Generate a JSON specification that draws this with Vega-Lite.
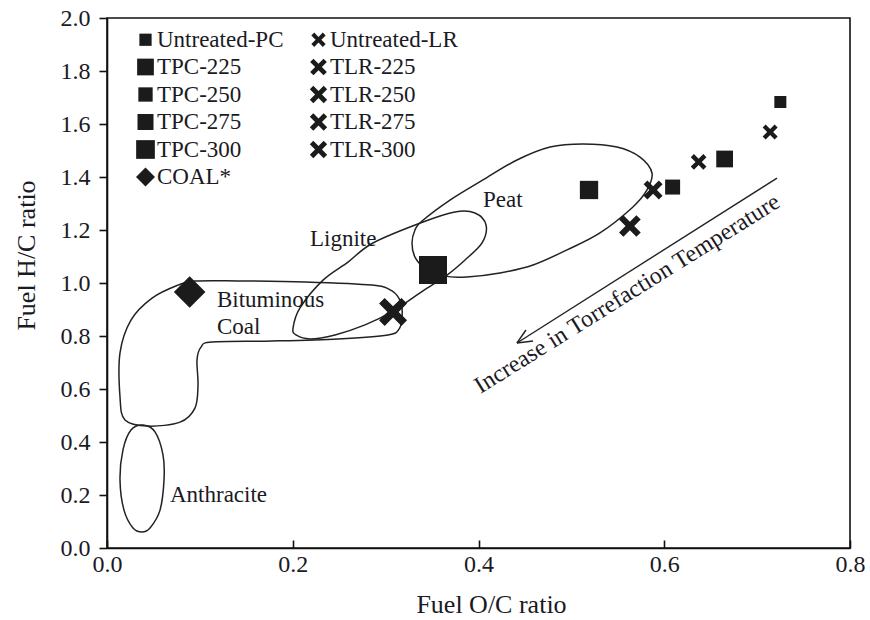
{
  "$schema": "https://vega.github.io/schema/vega-lite/v6.json",
  "width": 743,
  "height": 530,
  "autosize": {"type": "none"},
  "padding": {"left": 107, "top": 18, "right": 20, "bottom": 72},
  "background": "white",
  "config": {
    "font": "Liberation Serif",
    "view": {"stroke": "#111111", "strokeWidth": 1.6},
    "axis": {
      "grid": false,
      "labelFlush": false,
      "domainColor": "#111111",
      "domainWidth": 1.6,
      "tickColor": "#111111",
      "tickWidth": 1.6,
      "labelColor": "#1a1a24",
      "titleColor": "#1a1a24",
      "labelFont": "Liberation Serif",
      "titleFont": "Liberation Serif",
      "labelFontSize": 24,
      "titleFontSize": 26,
      "titleFontWeight": "normal"
    },
    "legend": {
      "orient": "none",
      "legendX": 27,
      "legendY": 10,
      "columns": 2,
      "columnPadding": 23,
      "rowPadding": 3.5,
      "padding": 0,
      "labelFont": "Liberation Serif",
      "labelFontSize": 23,
      "labelColor": "#1a1a24",
      "labelOffset": 0,
      "symbolOpacity": 1,
      "symbolStrokeWidth": 0
    }
  },
  "resolve": {"scale": {"shape": "independent", "size": "independent"}},
  "datasets": {
    "samples": [
      {"series": "Untreated-PC", "oc": 0.725, "hc": 1.683},
      {"series": "TPC-225", "oc": 0.665, "hc": 1.468},
      {"series": "TPC-250", "oc": 0.609, "hc": 1.362},
      {"series": "TPC-275", "oc": 0.519, "hc": 1.351},
      {"series": "TPC-300", "oc": 0.351, "hc": 1.049},
      {"series": "Untreated-LR", "oc": 0.714, "hc": 1.570},
      {"series": "TLR-225", "oc": 0.637, "hc": 1.457},
      {"series": "TLR-250", "oc": 0.588, "hc": 1.351},
      {"series": "TLR-275", "oc": 0.563, "hc": 1.215},
      {"series": "TLR-300", "oc": 0.308, "hc": 0.891},
      {"series": "COAL*", "oc": 0.089, "hc": 0.966}
    ],
    "regions": [
      {"region": "Peat", "ord": 0, "oc": 0.3284, "hc": 1.151},
      {"region": "Peat", "ord": 1, "oc": 0.3316, "hc": 1.200},
      {"region": "Peat", "ord": 2, "oc": 0.3392, "hc": 1.234},
      {"region": "Peat", "ord": 3, "oc": 0.3693, "hc": 1.313},
      {"region": "Peat", "ord": 4, "oc": 0.4048, "hc": 1.389},
      {"region": "Peat", "ord": 5, "oc": 0.4414, "hc": 1.464},
      {"region": "Peat", "ord": 6, "oc": 0.4770, "hc": 1.513},
      {"region": "Peat", "ord": 7, "oc": 0.5125, "hc": 1.525},
      {"region": "Peat", "ord": 8, "oc": 0.5491, "hc": 1.513},
      {"region": "Peat", "ord": 9, "oc": 0.5739, "hc": 1.475},
      {"region": "Peat", "ord": 10, "oc": 0.5868, "hc": 1.415},
      {"region": "Peat", "ord": 11, "oc": 0.5814, "hc": 1.351},
      {"region": "Peat", "ord": 12, "oc": 0.5663, "hc": 1.287},
      {"region": "Peat", "ord": 13, "oc": 0.5308, "hc": 1.189},
      {"region": "Peat", "ord": 14, "oc": 0.4953, "hc": 1.125},
      {"region": "Peat", "ord": 15, "oc": 0.4587, "hc": 1.068},
      {"region": "Peat", "ord": 16, "oc": 0.4231, "hc": 1.038},
      {"region": "Peat", "ord": 17, "oc": 0.3876, "hc": 1.023},
      {"region": "Peat", "ord": 18, "oc": 0.3639, "hc": 1.026},
      {"region": "Peat", "ord": 19, "oc": 0.3424, "hc": 1.057},
      {"region": "Peat", "ord": 20, "oc": 0.3316, "hc": 1.098},
      {"region": "Lignite", "ord": 0, "oc": 0.2003, "hc": 0.830},
      {"region": "Lignite", "ord": 1, "oc": 0.2078, "hc": 0.906},
      {"region": "Lignite", "ord": 2, "oc": 0.2326, "hc": 1.011},
      {"region": "Lignite", "ord": 3, "oc": 0.2595, "hc": 1.079},
      {"region": "Lignite", "ord": 4, "oc": 0.2864, "hc": 1.151},
      {"region": "Lignite", "ord": 5, "oc": 0.3402, "hc": 1.230},
      {"region": "Lignite", "ord": 6, "oc": 0.3747, "hc": 1.268},
      {"region": "Lignite", "ord": 7, "oc": 0.3962, "hc": 1.264},
      {"region": "Lignite", "ord": 8, "oc": 0.4081, "hc": 1.219},
      {"region": "Lignite", "ord": 9, "oc": 0.4038, "hc": 1.151},
      {"region": "Lignite", "ord": 10, "oc": 0.3855, "hc": 1.087},
      {"region": "Lignite", "ord": 11, "oc": 0.3661, "hc": 1.030},
      {"region": "Lignite", "ord": 12, "oc": 0.3402, "hc": 0.970},
      {"region": "Lignite", "ord": 13, "oc": 0.3079, "hc": 0.894},
      {"region": "Lignite", "ord": 14, "oc": 0.2778, "hc": 0.842},
      {"region": "Lignite", "ord": 15, "oc": 0.2455, "hc": 0.804},
      {"region": "Lignite", "ord": 16, "oc": 0.2186, "hc": 0.789},
      {"region": "Lignite", "ord": 17, "oc": 0.2035, "hc": 0.804},
      {"region": "Bituminous", "ord": 0, "oc": 0.0947, "hc": 1.0075},
      {"region": "Bituminous", "ord": 1, "oc": 0.1410, "hc": 1.008},
      {"region": "Bituminous", "ord": 2, "oc": 0.2132, "hc": 1.004},
      {"region": "Bituminous", "ord": 3, "oc": 0.2853, "hc": 0.992},
      {"region": "Bituminous", "ord": 4, "oc": 0.3069, "hc": 0.970},
      {"region": "Bituminous", "ord": 5, "oc": 0.3166, "hc": 0.925},
      {"region": "Bituminous", "ord": 6, "oc": 0.3176, "hc": 0.868},
      {"region": "Bituminous", "ord": 7, "oc": 0.3144, "hc": 0.826},
      {"region": "Bituminous", "ord": 8, "oc": 0.3025, "hc": 0.804},
      {"region": "Bituminous", "ord": 9, "oc": 0.2487, "hc": 0.789},
      {"region": "Bituminous", "ord": 10, "oc": 0.1777, "hc": 0.781},
      {"region": "Bituminous", "ord": 11, "oc": 0.1131, "hc": 0.777},
      {"region": "Bituminous", "ord": 12, "oc": 0.1012, "hc": 0.758},
      {"region": "Bituminous", "ord": 13, "oc": 0.0969, "hc": 0.709},
      {"region": "Bituminous", "ord": 14, "oc": 0.0980, "hc": 0.615},
      {"region": "Bituminous", "ord": 15, "oc": 0.0947, "hc": 0.528},
      {"region": "Bituminous", "ord": 16, "oc": 0.0786, "hc": 0.475},
      {"region": "Bituminous", "ord": 17, "oc": 0.0441, "hc": 0.460},
      {"region": "Bituminous", "ord": 18, "oc": 0.0194, "hc": 0.483},
      {"region": "Bituminous", "ord": 19, "oc": 0.0140, "hc": 0.570},
      {"region": "Bituminous", "ord": 20, "oc": 0.0140, "hc": 0.736},
      {"region": "Bituminous", "ord": 21, "oc": 0.0258, "hc": 0.860},
      {"region": "Bituminous", "ord": 22, "oc": 0.0485, "hc": 0.943},
      {"region": "Bituminous", "ord": 23, "oc": 0.0764, "hc": 0.992},
      {"region": "Anthracite", "ord": 0, "oc": 0.0388, "hc": 0.464},
      {"region": "Anthracite", "ord": 1, "oc": 0.0517, "hc": 0.438},
      {"region": "Anthracite", "ord": 2, "oc": 0.0603, "hc": 0.351},
      {"region": "Anthracite", "ord": 3, "oc": 0.0614, "hc": 0.257},
      {"region": "Anthracite", "ord": 4, "oc": 0.0571, "hc": 0.143},
      {"region": "Anthracite", "ord": 5, "oc": 0.0463, "hc": 0.0755},
      {"region": "Anthracite", "ord": 6, "oc": 0.0377, "hc": 0.0604},
      {"region": "Anthracite", "ord": 7, "oc": 0.0280, "hc": 0.0755},
      {"region": "Anthracite", "ord": 8, "oc": 0.0183, "hc": 0.143},
      {"region": "Anthracite", "ord": 9, "oc": 0.0140, "hc": 0.257},
      {"region": "Anthracite", "ord": 10, "oc": 0.0172, "hc": 0.370},
      {"region": "Anthracite", "ord": 11, "oc": 0.0258, "hc": 0.445}
    ],
    "regionNames": [
      {"text": "Peat", "oc": 0.4048, "hc": 1.287},
      {"text": "Lignite", "oc": 0.2186, "hc": 1.140},
      {"text": "Bituminous", "oc": 0.1184, "hc": 0.909},
      {"text": "Coal", "oc": 0.1184, "hc": 0.8075},
      {"text": "Anthracite", "oc": 0.0678, "hc": 0.1736}
    ],
    "arrow": [
      {"oc": 0.7214, "hc": 1.396, "oc2": 0.4414, "hc2": 0.7736},
      {"oc": 0.4414, "hc": 0.7736, "oc2": 0.4587, "hc2": 0.781},
      {"oc": 0.4414, "hc": 0.7736, "oc2": 0.4511, "hc2": 0.8226}
    ],
    "arrowNote": [
      {"text": "Increase in Torrefaction Temperature", "oc": 0.5642, "hc": 0.9358}
    ]
  },
  "encoding": {
    "x": {
      "field": "oc",
      "type": "quantitative",
      "scale": {"domain": [0, 0.8], "nice": false, "zero": false},
      "axis": {
        "title": "Fuel O/C ratio",
        "values": [0, 0.2, 0.4, 0.6, 0.8],
        "format": ".1f",
        "tickSize": -8,
        "labelPadding": 12,
        "titleX": 384,
        "titleY": 64,
        "titleAlign": "center",
        "titleBaseline": "alphabetic"
      }
    },
    "y": {
      "field": "hc",
      "type": "quantitative",
      "scale": {"domain": [0, 2], "nice": false, "zero": false},
      "axis": {
        "title": "Fuel H/C ratio",
        "values": [0, 0.2, 0.4, 0.6, 0.8, 1.0, 1.2, 1.4, 1.6, 1.8, 2.0],
        "format": ".1f",
        "tickSize": 8,
        "labelPadding": 9,
        "titleX": -73,
        "titleY": 237,
        "titleAngle": -90,
        "titleAlign": "center",
        "titleBaseline": "alphabetic"
      }
    }
  },
  "layer": [
    {
      "data": {"name": "regions"},
      "mark": {"type": "line", "interpolate": "cardinal-closed", "color": "#222222", "strokeWidth": 1.5},
      "encoding": {
        "detail": {"field": "region", "type": "nominal"},
        "order": {"field": "ord", "type": "quantitative"}
      }
    },
    {
      "data": {"name": "arrow"},
      "mark": {"type": "rule", "color": "#222222", "strokeWidth": 1.4},
      "encoding": {
        "x2": {"field": "oc2"},
        "y2": {"field": "hc2"}
      }
    },
    {
      "data": {"name": "regionNames"},
      "mark": {"type": "text", "align": "left", "baseline": "alphabetic", "fontSize": 23, "color": "#1a1a24", "font": "Liberation Serif"},
      "encoding": {"text": {"field": "text"}}
    },
    {
      "data": {"name": "arrowNote"},
      "mark": {"type": "text", "align": "center", "baseline": "alphabetic", "angle": -32, "fontSize": 24, "color": "#1a1a24", "font": "Liberation Serif"},
      "encoding": {"text": {"field": "text"}}
    },
    {
      "data": {"name": "samples"},
      "mark": {"type": "point", "filled": true, "opacity": 1, "color": "#1b1b1b", "strokeWidth": 0},
      "encoding": {
        "shape": {
          "field": "series",
          "type": "nominal",
          "legend": null,
          "scale": {
            "domain": ["Untreated-PC", "TPC-225", "TPC-250", "TPC-275", "TPC-300", "COAL*", "Untreated-LR", "TLR-225", "TLR-250", "TLR-275", "TLR-300"],
            "range": ["square", "square", "square", "square", "square", "diamond", "M-1,-0.6L-0.6,-1L0,-0.4L0.6,-1L1,-0.6L0.4,0L1,0.6L0.6,1L0,0.4L-0.6,1L-1,0.6L-0.4,0Z", "M-1,-0.6L-0.6,-1L0,-0.4L0.6,-1L1,-0.6L0.4,0L1,0.6L0.6,1L0,0.4L-0.6,1L-1,0.6L-0.4,0Z", "M-1,-0.6L-0.6,-1L0,-0.4L0.6,-1L1,-0.6L0.4,0L1,0.6L0.6,1L0,0.4L-0.6,1L-1,0.6L-0.4,0Z", "M-1,-0.6L-0.6,-1L0,-0.4L0.6,-1L1,-0.6L0.4,0L1,0.6L0.6,1L0,0.4L-0.6,1L-1,0.6L-0.4,0Z", "M-1,-0.6L-0.6,-1L0,-0.4L0.6,-1L1,-0.6L0.4,0L1,0.6L0.6,1L0,0.4L-0.6,1L-1,0.6L-0.4,0Z"]
          }
        },
        "size": {
          "field": "series",
          "type": "nominal",
          "legend": null,
          "scale": {
            "type": "ordinal",
            "domain": ["Untreated-PC", "TPC-225", "TPC-250", "TPC-275", "TPC-300", "COAL*", "Untreated-LR", "TLR-225", "TLR-250", "TLR-275", "TLR-300"],
            "range": [144, 280, 225, 335, 784, 1000, 225, 246, 361, 470, 784]
          }
        }
      }
    },
    {
      "description": "Key for the sample series: its marks are transparent, only the legend is drawn.",
      "data": {"name": "samples"},
      "mark": {"type": "point", "filled": true, "opacity": 0, "color": "#1b1b1b", "strokeWidth": 0},
      "encoding": {
        "shape": {
          "field": "series",
          "type": "nominal",
          "legend": {"title": null},
          "scale": {
            "domain": ["Untreated-PC", "TPC-225", "TPC-250", "TPC-275", "TPC-300", "COAL*", "Untreated-LR", "TLR-225", "TLR-250", "TLR-275", "TLR-300"],
            "range": ["square", "square", "square", "square", "square", "diamond", "M-1,-0.6L-0.6,-1L0,-0.4L0.6,-1L1,-0.6L0.4,0L1,0.6L0.6,1L0,0.4L-0.6,1L-1,0.6L-0.4,0Z", "M-1,-0.6L-0.6,-1L0,-0.4L0.6,-1L1,-0.6L0.4,0L1,0.6L0.6,1L0,0.4L-0.6,1L-1,0.6L-0.4,0Z", "M-1,-0.6L-0.6,-1L0,-0.4L0.6,-1L1,-0.6L0.4,0L1,0.6L0.6,1L0,0.4L-0.6,1L-1,0.6L-0.4,0Z", "M-1,-0.6L-0.6,-1L0,-0.4L0.6,-1L1,-0.6L0.4,0L1,0.6L0.6,1L0,0.4L-0.6,1L-1,0.6L-0.4,0Z", "M-1,-0.6L-0.6,-1L0,-0.4L0.6,-1L1,-0.6L0.4,0L1,0.6L0.6,1L0,0.4L-0.6,1L-1,0.6L-0.4,0Z"]
          }
        },
        "size": {
          "field": "series",
          "type": "nominal",
          "legend": {"title": null},
          "scale": {
            "type": "ordinal",
            "domain": ["Untreated-PC", "TPC-225", "TPC-250", "TPC-275", "TPC-300", "COAL*", "Untreated-LR", "TLR-225", "TLR-250", "TLR-275", "TLR-300"],
            "range": [150, 280, 205, 256, 350, 361, 205, 280, 300, 300, 300]
          }
        }
      }
    }
  ]
}
